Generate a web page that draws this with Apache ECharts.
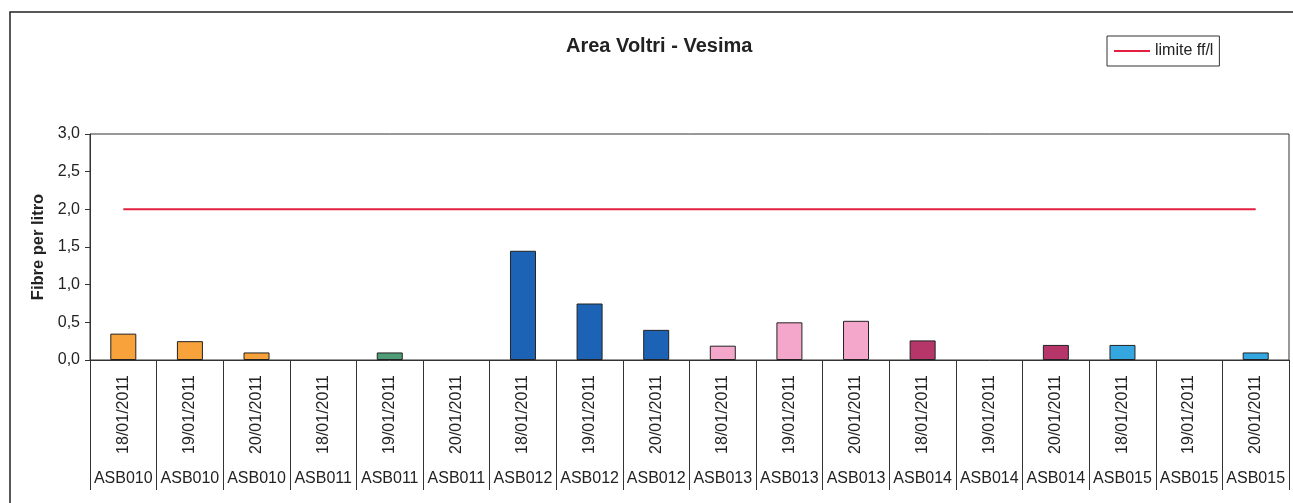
<!DOCTYPE html>
<html>
<head>
<meta charset="utf-8">
<title>Area Voltri - Vesima</title>
<script src="https://cdn.jsdelivr.net/npm/echarts@6/dist/echarts.min.js"></script>
<style>
  html, body { margin: 0; padding: 0; background: #fff; }
  #chart { width: 1293px; height: 503px; }
</style>
</head>
<body>
<div id="chart"></div>
<script>
// sampling dates (first axis row) and stations (second row)
var dates = ['18/01/2011', '19/01/2011', '20/01/2011', '18/01/2011', '19/01/2011', '20/01/2011',
  '18/01/2011', '19/01/2011', '20/01/2011', '18/01/2011', '19/01/2011', '20/01/2011',
  '18/01/2011', '19/01/2011', '20/01/2011', '18/01/2011', '19/01/2011', '20/01/2011'];
var stations = ['ASB010', 'ASB010', 'ASB010', 'ASB011', 'ASB011', 'ASB011',
  'ASB012', 'ASB012', 'ASB012', 'ASB013', 'ASB013', 'ASB013',
  'ASB014', 'ASB014', 'ASB014', 'ASB015', 'ASB015', 'ASB015'];
// fibre per litro
var fibre = [0.35, 0.25, 0.1, 0, 0.1, 0,
  1.45, 0.75, 0.4, 0.19, 0.5, 0.52,
  0.26, 0, 0.2, 0.2, 0, 0.1];
var limite = [2, 2, 2, 2, 2, 2, 2, 2, 2, 2, 2, 2, 2, 2, 2, 2, 2, 2];
var yTicks = [0, 0.5, 1, 1.5, 2, 2.5, 3];

var stationColors = {
  ASB010: '#F7A23A',
  ASB011: '#4F9C78',
  ASB012: '#1D63B5',
  ASB013: '#F4A7CB',
  ASB014: '#B63669',
  ASB015: '#35A7E0'
};

var font = 'Liberation Sans, Arial, sans-serif';

var chart = echarts.init(document.getElementById('chart'));

// zero readings get no outline, as in the original sheet
var barData = fibre.map(function (v, i) {
  return {
    value: v,
    itemStyle: { color: stationColors[stations[i]], borderWidth: v > 0 ? 1 : 0 }
  };
});

chart.setOption({
  animation: false,
  backgroundColor: '#fff',
  title: {
    text: 'Area Voltri - Vesima',
    left: 561,
    top: 31,
    textStyle: { fontFamily: font, fontSize: 20, fontWeight: 'bold', color: '#222' }
  },
  legend: {
    left: 1107,
    top: 36,
    padding: [7, 6, 7, 7],
    borderColor: '#333',
    borderWidth: 1,
    itemWidth: 36,
    itemHeight: 2,
    itemGap: 4,
    icon: 'rect',
    data: ['limite ff/l'],
    textStyle: { fontFamily: font, fontSize: 16, color: '#222' }
  },
  graphic: [{
    type: 'polyline',
    shape: { points: [[10, 503], [10, 12], [1293, 12]] },
    style: { stroke: '#222', lineWidth: 1.5, fill: null }
  }],
  grid: {
    left: 90,
    right: 4,
    top: 134,
    bottom: 143,
    show: true,
    borderColor: '#333',
    borderWidth: 1
  },
  xAxis: [{
    type: 'category',
    position: 'bottom',
    data: dates,
    axisLine: { lineStyle: { color: '#333', width: 1 } },
    axisTick: { show: true, interval: 0, length: 130, lineStyle: { color: '#333' } },
    axisLabel: {
      rotate: 90,
      margin: 15,
      interval: 0,
      fontFamily: font,
      fontSize: 16,
      color: '#222'
    }
  }, {
    type: 'category',
    position: 'bottom',
    data: stations,
    axisLine: { show: false },
    axisTick: { show: false },
    axisLabel: {
      margin: 111,
      interval: 0,
      fontFamily: font,
      fontSize: 16,
      color: '#222'
    }
  }],
  yAxis: {
    type: 'value',
    min: yTicks[0],
    max: yTicks[yTicks.length - 1],
    interval: 0.5,
    name: 'Fibre per litro',
    nameLocation: 'middle',
    nameGap: 40,
    nameTextStyle: { fontFamily: font, fontSize: 16.5, fontWeight: 'bold', color: '#222' },
    axisLine: { show: true, lineStyle: { color: '#333' } },
    axisTick: { show: true, length: 5, lineStyle: { color: '#333' } },
    splitLine: { show: false },
    axisLabel: {
      margin: 10,
      fontFamily: font,
      fontSize: 16,
      color: '#222',
      formatter: function (v) { return v.toFixed(1).replace('.', ','); }
    }
  },
  series: [{
    name: 'fibre',
    type: 'bar',
    xAxisIndex: 0,
    barWidth: 26,
    data: barData,
    itemStyle: { borderColor: '#222', borderWidth: 1 }
  }, {
    name: 'limite ff/l',
    type: 'line',
    xAxisIndex: 0,
    data: limite,
    symbol: 'none',
    itemStyle: { color: '#E3203F' },
    lineStyle: { color: '#E3203F', width: 2 }
  }]
});
</script>
</body>
</html>
